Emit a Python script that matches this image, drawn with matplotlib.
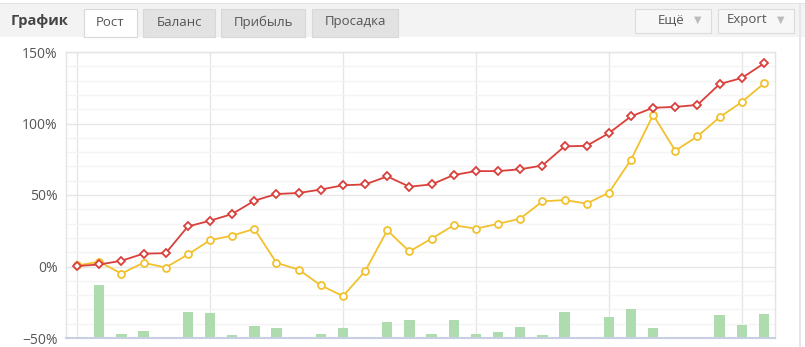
import matplotlib
matplotlib.use("Agg")
import matplotlib.pyplot as plt
from matplotlib.patches import Rectangle
from matplotlib.ticker import FixedLocator, FuncFormatter

# growth, % (red line with diamonds)
growth_total = [0.3, 1.4, 4.0, 9.0, 9.3, 28.0, 32.0, 36.7, 46.0, 50.7, 51.4, 53.8,
                56.8, 57.4, 63.0, 55.8, 57.4, 64.0, 66.7, 66.7, 68.0, 70.6, 84.0,
                84.4, 93.2, 105.0, 111.0, 111.6, 113.0, 127.6, 131.8, 142.0]
# growth, % (yellow line with circles)
growth_equity = [0.7, 3.3, -4.9, 2.6, -0.7, 8.4, 18.4, 21.6, 26.3, 2.6, -2.2, -13.2,
                 -20.7, -3.3, 25.3, 10.5, 19.5, 28.8, 26.5, 29.8, 33.5, 45.5, 46.5,
                 44.0, 51.6, 74.6, 106.0, 81.0, 91.0, 104.4, 115.0, 128.0]
# green bars, top value in %
bar_tops = [-50.0, -13.2, -47.0, -45.2, -50.0, -31.6, -32.6, -47.6, -41.8, -43.0, -49.4,
            -47.0, -43.0, -49.3, -39.0, -37.4, -47.0, -37.4, -47.0, -46.0, -42.4, -47.6,
            -31.6, -49.3, -35.0, -29.9, -43.0, -49.3, -49.3, -34.2, -41.2, -33.5]
y_ticks = [-50, 0, 50, 100, 150]
tabs = ["Рост", "Баланс", "Прибыль", "Просадка"]

W, H = 805, 347
fig = plt.figure(figsize=(W / 100, H / 100), dpi=100)
fig.patch.set_facecolor("white")
plt.rcParams["font.family"] = ["Open Sans", "DejaVu Sans"]


def fx(px):
    return px / W


def fy(py):
    return 1 - py / H


# header band
fig.patches.append(Rectangle((fx(0), fy(37)), 1, 34 / H, transform=fig.transFigure,
                             facecolor="#f3f3f3", edgecolor="none", zorder=0))
fig.patches.append(Rectangle((fx(0), fy(37)), 1, 0.001, transform=fig.transFigure,
                             facecolor="#dedede", edgecolor="none", zorder=1))
fig.patches.append(Rectangle((fx(0), fy(4)), 1, 0.003, transform=fig.transFigure,
                             facecolor="#e2e2e2", edgecolor="none", zorder=1))
fig.patches.append(Rectangle((fx(799), 0), 0.0025, fy(4), transform=fig.transFigure,
                             facecolor="#e6e6e6", edgecolor="none", zorder=1))
fig.text(fx(11), fy(21), "График", fontsize=10.5, fontweight="bold", color="#444444",
         va="center", ha="left")

tab_x = [(84, 137), (143, 215), (221, 305), (312, 398)]
for i, (label, (x0, x1)) in enumerate(zip(tabs, tab_x)):
    active = i == 0
    fig.patches.append(Rectangle((fx(x0), fy(37)), fx(x1 - x0), 28 / H,
                                 transform=fig.transFigure,
                                 facecolor="white" if active else "#e2e2e2",
                                 edgecolor="#d8d8d8", linewidth=0.8, zorder=2))
    fig.text(fx((x0 + x1) / 2), fy(22), label, fontsize=9.5, color="#555555",
             ha="center", va="center", zorder=3)

for label, (x0, x1) in [("Ещё", (635, 711)), ("Export", (718, 794))]:
    fig.patches.append(Rectangle((fx(x0), fy(33)), fx(x1 - x0), 24 / H,
                                 transform=fig.transFigure, facecolor="#f7f7f7",
                                 edgecolor="#dcdcdc", linewidth=0.8, zorder=2))
    fig.text(fx(x1 - 27), fy(20), label, fontsize=9.5, color="#555555",
             ha="right", va="center", zorder=3)
    fig.text(fx(x1 - 13), fy(20), "▼", fontsize=7, color="#bbbbbb",
             ha="center", va="center", zorder=3, family="DejaVu Sans")

# chart
ax = fig.add_axes([fx(66), fy(338), fx(775 - 66), (338 - 52) / H])
ax.set_facecolor("white")
x = list(range(len(growth_total)))

ax.bar(x, [t + 50 for t in bar_tops], bottom=-50, width=0.47, color="#aedcae",
       edgecolor="none", zorder=2)
ax.plot(x, growth_equity, color="#f2c12e", linewidth=1.3, marker="o", markersize=5,
        markerfacecolor="white", markeredgecolor="#f2c12e", markeredgewidth=1.3, zorder=3)
ax.plot(x, growth_total, color="#d9403b", linewidth=1.3, marker="D", markersize=4.2,
        markerfacecolor="white", markeredgecolor="#d9403b", markeredgewidth=1.3, zorder=4)

ax.set_xlim(-0.5, 31.5)
ax.set_ylim(-50, 150)
ax.yaxis.set_major_locator(FixedLocator(y_ticks))
ax.yaxis.set_minor_locator(FixedLocator(range(-50, 151, 10)))
ax.yaxis.set_major_formatter(FuncFormatter(lambda v, _: f"{v:.0f}%".replace("-", "−")))
ax.xaxis.set_major_locator(FixedLocator(range(0, 32, 6)))
ax.set_xticklabels([])
ax.grid(axis="y", which="major", color="#e6e6e6", linewidth=1.0, zorder=0)
ax.grid(axis="y", which="minor", color="#f4f4f4", linewidth=1.0, zorder=0)
ax.grid(axis="x", which="major", color="#e6e6e6", linewidth=1.0, zorder=0)
ax.set_axisbelow(True)
ax.tick_params(axis="y", which="both", length=0, labelsize=10, labelcolor="#555555", pad=6)
ax.tick_params(axis="x", length=0)
for name, spine in ax.spines.items():
    spine.set_color("#e4e4e4")
    spine.set_linewidth(1.0)
ax.spines["bottom"].set_color("#c8cfe2")
ax.spines["bottom"].set_linewidth(1.5)

fig.savefig("out.png", dpi=100, facecolor=fig.get_facecolor())
